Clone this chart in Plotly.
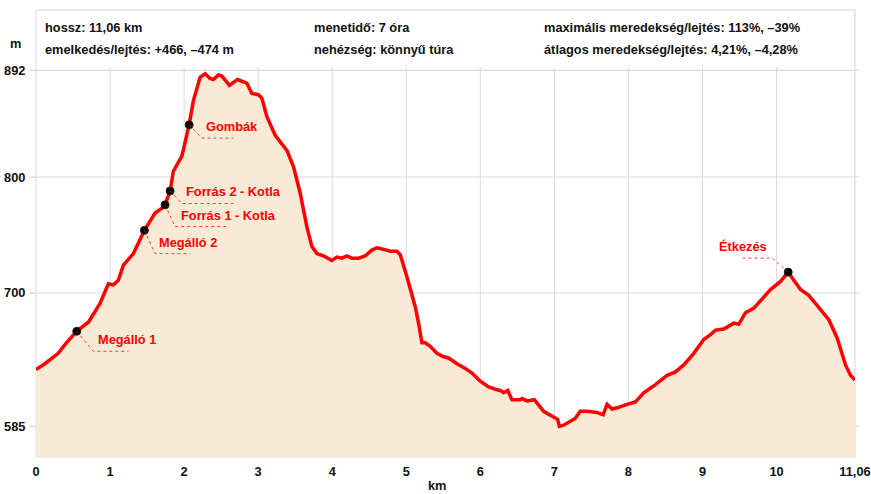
import plotly.graph_objects as go

# ---------------- data ----------------
distance_km = [0, 0.12, 0.30, 0.41, 0.55, 0.71, 0.865, 0.977, 1.045, 1.112, 1.18, 1.315, 1.36, 1.464,
               1.608, 1.72, 1.743, 1.811, 1.855, 1.97, 2.068, 2.126, 2.216, 2.284, 2.35, 2.396, 2.464,
               2.51, 2.613, 2.72, 2.847, 2.915, 3.005, 3.05, 3.118, 3.23, 3.388, 3.477, 3.568, 3.658,
               3.726, 3.793, 3.883, 3.996, 4.063, 4.131, 4.199, 4.266, 4.356, 4.446, 4.536, 4.604,
               4.672, 4.784, 4.874, 4.919, 5.009, 5.122, 5.166, 5.212, 5.257, 5.324, 5.414, 5.504,
               5.572, 5.685, 5.797, 5.888, 6.0, 6.112, 6.203, 6.27, 6.315, 6.37, 6.428, 6.54, 6.563,
               6.63, 6.73, 6.855, 6.99, 7.045, 7.068, 7.126, 7.284, 7.35, 7.44, 7.577, 7.658, 7.712,
               7.78, 7.847, 7.982, 8.095, 8.207, 8.365, 8.523, 8.635, 8.748, 8.883, 9.018, 9.108,
               9.176, 9.288, 9.423, 9.49, 9.581, 9.694, 9.807, 9.919, 10.054, 10.158, 10.234, 10.324,
               10.436, 10.571, 10.707, 10.82, 10.932, 11.0, 11.06]
elevation_m = [634, 639, 648, 657, 667, 675, 691, 708, 707, 711, 724, 734, 740, 754,
               769, 774, 776, 788, 805, 818, 845, 866, 886, 889, 885, 884, 888,
               887, 879, 884, 881, 872, 871, 868, 852, 836, 823, 809, 786, 757,
               740, 734, 732, 728, 731, 730, 732, 730, 730, 732, 737, 739,
               738, 736, 736, 733, 714, 688, 674, 657, 657, 654, 648, 645,
               644, 639, 635, 631, 624, 619, 617, 616, 614, 616, 608, 608, 609,
               607, 608, 598, 593, 591, 585, 586, 592, 598, 598, 597, 595, 604,
               600, 601, 604, 606, 614, 621, 629, 632, 638, 648, 660, 664,
               668, 669, 674, 673, 683, 687, 695, 703, 710, 718, 711, 703,
               698, 688, 677, 661, 638, 629, 625]

poi_names = ["Megálló 1", "Megálló 2", "Forrás 1 - Kotla", "Forrás 2 - Kotla", "Gombák", "Étkezés"]
poi_km = [0.55, 1.464, 1.743, 1.811, 2.068, 10.158]
poi_elev = [667, 754, 776, 788, 845, 718]

x_tick_vals = [0, 1, 2, 3, 4, 5, 6, 7, 8, 9, 10, 11.06]
x_tick_text = ["0", "1", "2", "3", "4", "5", "6", "7", "8", "9", "10", "11,06"]
y_tick_vals = [585, 700, 800, 892]
y_tick_text = ["585", "700", "800", "892"]

header_col1 = ["hossz: 11,06 km", "emelkedés/lejtés: +466, –474 m"]
header_col2 = ["menetidő: 7 óra", "nehézség: könnyű túra"]
header_col3 = ["maximális meredekség/lejtés: 113%, –39%", "átlagos meredekség/lejtés: 4,21%, –4,28%"]

# ---------------- styles / layout ----------------
W, H = 871, 494
ML, MR, MT, MB = 36, 16, 10, 37
PW, PH = W - ML - MR, H - MT - MB
Y_RANGE = [558.6, 944.0]
X_RANGE = [0, 11.06]
FONT = "Liberation Sans, Arial, sans-serif"
FS = 12.8
GRID = "#dadada"
RED = "#ff0000"
TXT = "#111111"

def px_x(p):  # pixel -> paper x
    return (p - ML) / PW

def px_y(p):  # pixel -> paper y
    return (H - MB - p) / PH

# label offsets in pixels (screen: +down): elbow dx, dy, line end dx, text dx, text dy, anchor
poi_style = [
    dict(ex=16.6, ey=20, lx=51.6, tx=19, ty=8.3, anchor="left"),
    dict(ex=10.7, ey=23.3, lx=45.7, tx=12.4, ty=11.7, anchor="left"),
    dict(ex=10, ey=21.7, lx=63.3, tx=14, ty=10.7, anchor="left"),
    dict(ex=11.7, ey=12.6, lx=63.3, tx=14, ty=1.0, anchor="left"),
    dict(ex=12.7, ey=13.3, lx=44.3, tx=15.3, ty=1.7, anchor="left"),
    dict(ex=-16, ey=-14, lx=-46, tx=-45.7, ty=-25.6, anchor="center"),
]

fig = go.Figure()

fig.add_trace(go.Scatter(
    x=distance_km, y=elevation_m, mode="lines",
    line=dict(color=RED, width=3.5),
    fill="tozeroy", fillcolor="#f9ead6",
    hoverinfo="skip", showlegend=False,
))

fig.add_trace(go.Scatter(
    x=poi_km, y=poi_elev, mode="markers",
    marker=dict(color="black", size=8, line=dict(color="#222", width=1)),
    hoverinfo="skip", showlegend=False,
))

shapes = []
# frame
shapes.append(dict(type="rect", xref="paper", yref="paper", x0=0, x1=1, y0=0, y1=1,
                   line=dict(color=GRID, width=1), layer="below"))
# vertical grid lines
for xv in x_tick_vals[1:-1]:
    shapes.append(dict(type="line", xref="x", yref="y", x0=xv, x1=xv, y0=Y_RANGE[0], y1=894.8,
                       line=dict(color=GRID, width=1), layer="below"))
shapes.append(dict(type="line", xref="x", yref="y", x0=11.06, x1=11.06, y0=Y_RANGE[0], y1=Y_RANGE[1],
                   line=dict(color=GRID, width=1), layer="below"))
# horizontal grid lines
for yv in y_tick_vals:
    shapes.append(dict(type="line", xref="paper", yref="y", x0=px_x(30), x1=px_x(859), y0=yv, y1=yv,
                       line=dict(color=GRID, width=1.2), layer="below"))

annotations = []
for name, xk, ye, st in zip(poi_names, poi_km, poi_elev, poi_style):
    path = "M0,0 L{:.1f},{:.1f} L{:.1f},{:.1f}".format(st["ex"], -st["ey"], st["lx"], -st["ey"])
    shapes.append(dict(type="path", xref="x", yref="y", xsizemode="pixel", ysizemode="pixel",
                       xanchor=xk, yanchor=ye, path=path,
                       line=dict(color="rgba(255,0,0,0.75)", width=1, dash="dot"), layer="above"))
    annotations.append(dict(x=xk, y=ye, xref="x", yref="y", text=name, showarrow=False,
                            xanchor=st["anchor"], yanchor="middle",
                            xshift=st["tx"], yshift=-st["ty"],
                            font=dict(family=FONT, size=FS, color=RED, weight="bold")))

# header texts
for col, xp in ((header_col1, 42.5), (header_col2, 312), (header_col3, 542)):
    for txt, yp in zip(col, (27, 49.5)):
        annotations.append(dict(x=px_x(xp), y=px_y(yp), xref="paper", yref="paper", text=txt,
                                showarrow=False, xanchor="left", yanchor="middle",
                                font=dict(family=FONT, size=FS, color=TXT, weight="bold")))
annotations.append(dict(x=px_x(8), y=px_y(43), xref="paper", yref="paper", text="m", showarrow=False,
                        xanchor="left", yanchor="middle",
                        font=dict(family=FONT, size=FS, color=TXT, weight="bold")))
annotations.append(dict(x=px_x(437), y=px_y(485.5), xref="paper", yref="paper", text="km", showarrow=False,
                        xanchor="center", yanchor="middle",
                        font=dict(family=FONT, size=FS, color=TXT, weight="bold")))

fig.update_layout(
    width=W, height=H,
    margin=dict(l=ML, r=MR, t=MT, b=MB, pad=0, autoexpand=False),
    paper_bgcolor="white", plot_bgcolor="white",
    font=dict(family=FONT, size=FS, color=TXT, weight="bold"),
    shapes=shapes, annotations=annotations,
    xaxis=dict(range=X_RANGE, tickvals=x_tick_vals, ticktext=x_tick_text, showgrid=False,
               zeroline=False, showline=False, ticks="", ticklabelstandoff=5, automargin=False,
               tickfont=dict(family=FONT, size=FS, color=TXT, weight="bold")),
    yaxis=dict(range=Y_RANGE, tickvals=y_tick_vals, ticktext=y_tick_text, showgrid=False,
               zeroline=False, showline=False, ticks="outside", ticklen=6, tickcolor=GRID,
               tickwidth=1, ticklabelstandoff=1, automargin=False,
               tickfont=dict(family=FONT, size=FS, color=TXT, weight="bold")),
)

fig.write_html("out.html", config={"displayModeBar": False},
               post_script="document.body.style.margin='0';document.body.style.overflow='hidden';")
